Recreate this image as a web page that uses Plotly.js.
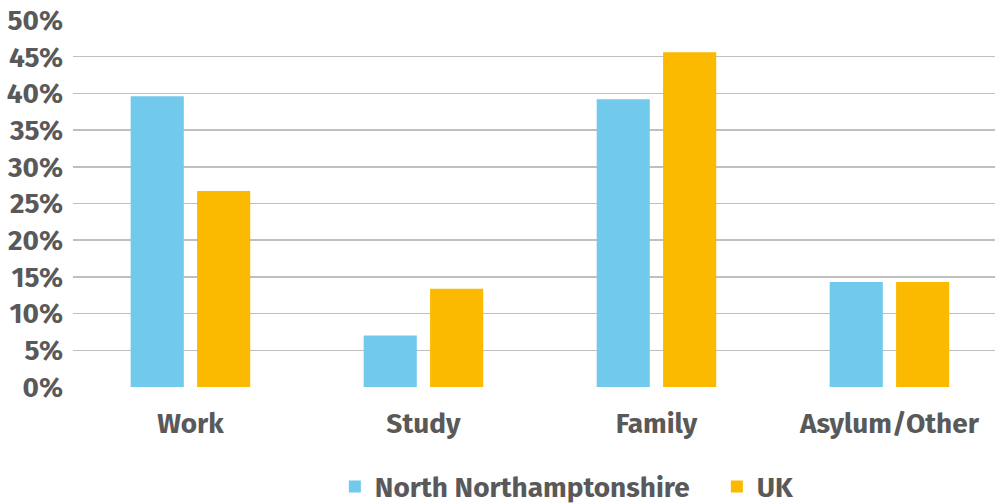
<!DOCTYPE html>
<html>
<head>
<meta charset="utf-8">
<script src="https://cdn.plot.ly/plotly-3.0.1.min.js"></script>
<style>html,body{margin:0;padding:0;background:#fff;}#chart{width:995px;height:503px;}</style>
</head>
<body>
<div id="chart"></div>
<script>
const categories = ["Work", "Study", "Family", "Asylum/Other"];
const northNorthamptonshire = [39.6, 7.0, 39.2, 14.3];
const uk = [26.7, 13.4, 45.6, 14.3];
const yTicks = [0, 5, 10, 15, 20, 25, 30, 35, 40, 45, 50];
const yTickLabels = yTicks.map(v => v + "%");

const font = "'Fira Sans', 'Noto Sans', 'Open Sans', sans-serif";
const textColor = "#595959";

const traces = [
  {type: "bar", name: "North Northamptonshire", x: categories, y: northNorthamptonshire,
   marker: {color: "#71C9EB"}, hoverinfo: "x+y"},
  {type: "bar", name: "UK", x: categories, y: uk,
   marker: {color: "#FBB900"}, hoverinfo: "x+y"}
];

const layout = {
  width: 995, height: 503,
  margin: {l: 73, r: 0, t: 20, b: 116, autoexpand: false},
  paper_bgcolor: "#fff", plot_bgcolor: "#fff",
  barmode: "group", bargap: 0.43, bargroupgap: 0.2,
  font: {family: font, color: textColor, size: 28},
  showlegend: true,
  legend: {orientation: "h", x: 0.284, xanchor: "left", y: -0.272, yanchor: "middle",
           font: {family: font, size: 28, color: textColor, weight: "bold"},
           itemwidth: 30, tracegroupgap: 0, entrywidth: 337},
  xaxis: {type: "category", range: [-0.504, 3.453], showgrid: false, zeroline: false,
          showline: false, ticks: "", ticklabelstandoff: 17,
          tickfont: {family: font, size: 28, color: textColor, weight: "bold"}},
  yaxis: {range: [0, 50], tickvals: yTicks, ticktext: yTickLabels, showgrid: true,
          gridcolor: "#BFBFBF", gridwidth: 1.5, zeroline: false, showline: false,
          ticks: "", ticklabelstandoff: 9,
          tickfont: {family: font, size: 28, color: textColor, weight: "bold"}}
};

Plotly.newPlot("chart", traces, layout, {displayModeBar: false, staticPlot: true});
</script>
</body>
</html>
